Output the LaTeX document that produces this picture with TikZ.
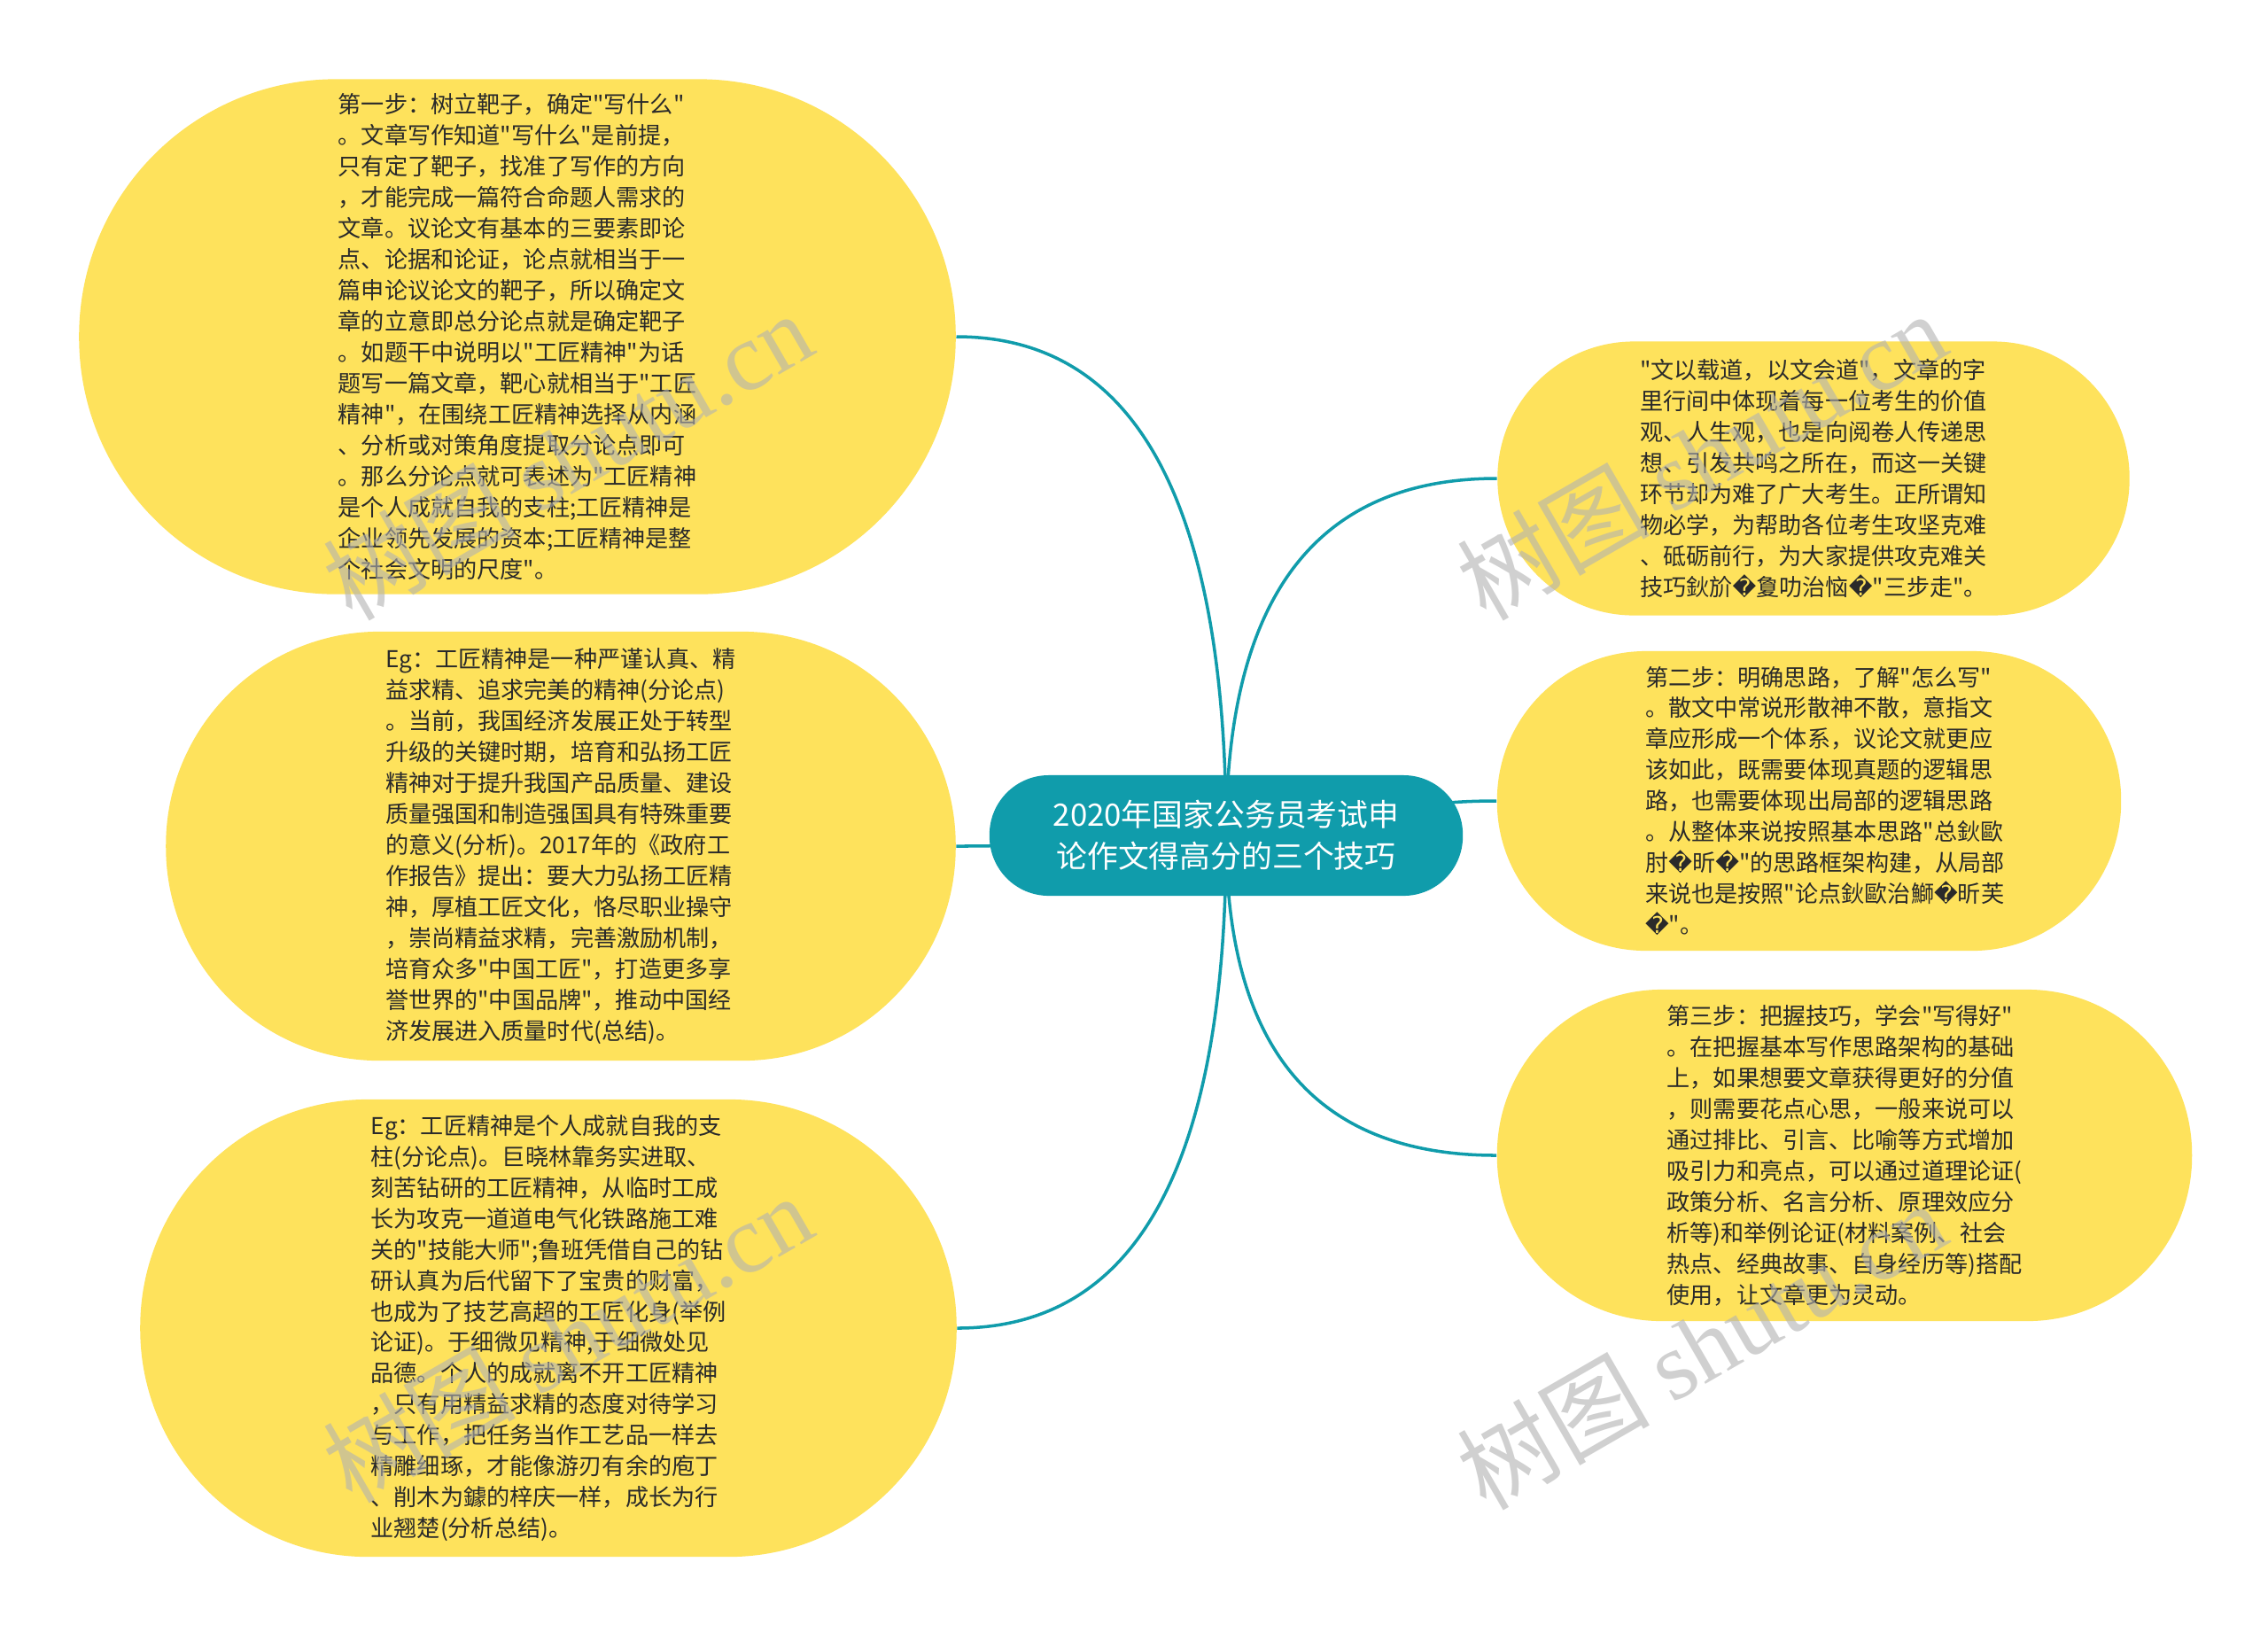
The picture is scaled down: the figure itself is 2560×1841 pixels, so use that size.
\documentclass[tikz,border=0pt]{standalone}
\usepackage{fontspec}
\newfontfamily\cjk{Noto Sans CJK SC}
\newfontfamily\dvs{DejaVu Sans}
\newfontfamily\wmserif{Liberation Serif}
\usetikzlibrary{backgrounds}
\newcommand\rpl{{\dvs\char"FFFD}}
\definecolor{leafyellow}{HTML}{FEE25C}
\definecolor{rootteal}{HTML}{109CAB}
\definecolor{textdark}{HTML}{2A2A2A}
\tikzset{
  leaf/.style={fill=leafyellow, text=textdark, align=left, inner sep=0pt,
    font=\cjk\fontsize{7.43pt}{9.95pt}\selectfont},
  leafshape/.style={fill=leafyellow, inner sep=0pt},
  leaftext/.style={text=textdark, align=left, inner sep=0pt,
    font=\cjk\fontsize{7.43pt}{9.95pt}\selectfont},
  root/.style={fill=rootteal, text=white, align=center, inner sep=0pt,
    font=\cjk\fontsize{9.9pt}{13.4pt}\selectfont, rounded corners=0.67cm,
    minimum width=5.34cm, minimum height=1.36cm},
  link/.style={draw=rootteal, line width=1pt},
  wm/.style={text=gray!60, opacity=0.6, font=\fontsize{31pt}{31pt}\selectfont, inner sep=0pt}
}
\begin{document}
\begin{tikzpicture}[x=0.01cm, y=-0.01cm]
\useasboundingbox (0,0) rectangle (2560,1841);

\node[root] (c) at (1384,943) {2020年国家公务员考试申\\论作文得高分的三个技巧};

\node[leaf, minimum width=9.89cm, minimum height=5.81cm, rounded corners=2.9cm] (n1) at (584,380) {第一步：树立靶子，确定"写什么"\\。文章写作知道"写什么"是前提，\\只有定了靶子，找准了写作的方向\\，才能完成一篇符合命题人需求的\\文章。议论文有基本的三要素即论\\点、论据和论证，论点就相当于一\\篇申论议论文的靶子，所以确定文\\章的立意即总分论点就是确定靶子\\。如题干中说明以"工匠精神"为话\\题写一篇文章，靶心就相当于"工匠\\精神"，在围绕工匠精神选择从内涵\\、分析或对策角度提取分论点即可\\。那么分论点就可表述为"工匠精神\\是个人成就自我的支柱;工匠精神是\\企业领先发展的资本;工匠精神是整\\个社会文明的尺度"。};

\node[leaf, minimum width=8.91cm, minimum height=4.84cm, rounded corners=2.41cm] (n2) at (633,955) {Eg：工匠精神是一种严谨认真、精\\益求精、追求完美的精神(分论点)\\。当前，我国经济发展正处于转型\\升级的关键时期，培育和弘扬工匠\\精神对于提升我国产品质量、建设\\质量强国和制造强国具有特殊重要\\的意义(分析)。2017年的《政府工\\作报告》提出：要大力弘扬工匠精\\神，厚植工匠文化，恪尽职业操守\\，崇尚精益求精，完善激励机制，\\培育众多"中国工匠"，打造更多享\\誉世界的"中国品牌"，推动中国经\\济发展进入质量时代(总结)。};

\node[leaf, minimum width=9.21cm, minimum height=5.16cm, rounded corners=2.57cm] (n3) at (619,1499) {Eg：工匠精神是个人成就自我的支\\柱(分论点)。巨晓林靠务实进取、\\刻苦钻研的工匠精神，从临时工成\\长为攻克一道道电气化铁路施工难\\关的"技能大师";鲁班凭借自己的钻\\研认真为后代留下了宝贵的财富，\\也成为了技艺高超的工匠化身(举例\\论证)。于细微见精神,于细微处见\\品德。个人的成就离不开工匠精神\\，只有用精益求精的态度对待学习\\与工作，把任务当作工艺品一样去\\精雕细琢，才能像游刃有余的庖丁\\、削木为鐻的梓庆一样，成长为行\\业翘楚(分析总结)。};

\node[leaf, minimum width=7.13cm, minimum height=3.09cm, rounded corners=1.54cm] (n4) at (2047,540) {"文以载道，以文会道"，文章的字\\里行间中体现着每一位考生的价值\\观、人生观，也是向阅卷人传递思\\想、引发共鸣之所在，而这一关键\\环节却为难了广大考生。正所谓知\\物必学，为帮助各位考生攻坚克难\\、砥砺前行，为大家提供攻克难关\\技巧鈥斺\rpl 夐叻治恼\rpl"三步走"。};

\node[leafshape, minimum width=7.04cm, minimum height=3.38cm, rounded corners=1.68cm] (n5) at (2042,904) {};
\node[leaftext] (t5) at (2060,904) {第二步：明确思路，了解"怎么写"\\。散文中常说形散神不散，意指文\\章应形成一个体系，议论文就更应\\该如此，既需要体现真题的逻辑思\\路，也需要体现出局部的逻辑思路\\。从整体来说按照基本思路"总鈥歐\\肘\rpl 昕\rpl"的思路框架构建，从局部\\来说也是按照"论点鈥歐治鰤\rpl 昕芙\\\rpl"。};

\node[leaf, minimum width=7.84cm, minimum height=3.74cm, rounded corners=1.86cm] (n6) at (2082,1304) {第三步：把握技巧，学会"写得好"\\。在把握基本写作思路架构的基础\\上，如果想要文章获得更好的分值\\，则需要花点心思，一般来说可以\\通过排比、引言、比喻等方式增加\\吸引力和亮点，可以通过道理论证(\\政策分析、名言分析、原理效应分\\析等)和举例论证(材料案例、社会\\热点、经典故事、自身经历等)搭配\\使用，让文章更为灵动。};

\begin{scope}[on background layer]
\fill[white] (0,0) rectangle (2560,1841);
\draw[link] (c.center) .. controls +(0,-375) and +(203,0) .. (n1.east);
\draw[link] (c.center) .. controls +(-150,0) and +(150,0) .. (n2.east);
\draw[link] (c.center) .. controls +(0,371) and +(203,0) .. (n3.east);
\draw[link] (c.center) .. controls +(0,-269) and +(-204,0) .. (n4.west);
\draw[link] (c.center) .. controls +(150,0) and +(-150,0) .. (n5.west);
\draw[link] (c.center) .. controls +(0,241) and +(-204,0) .. (n6.west);
\end{scope}

\node[wm, rotate=30] (w1) at (640,514) {\cjk 树图 {\wmserif shutu.cn}};
\node[wm, rotate=30] (w2) at (1920,514) {\cjk 树图 {\wmserif shutu.cn}};
\node[wm, rotate=30] (w3) at (640,1510) {\cjk 树图 {\wmserif shutu.cn}};
\node[wm, rotate=30] (w4) at (1920,1518) {\cjk 树图 {\wmserif shutu.cn}};
\end{tikzpicture}
\end{document}
